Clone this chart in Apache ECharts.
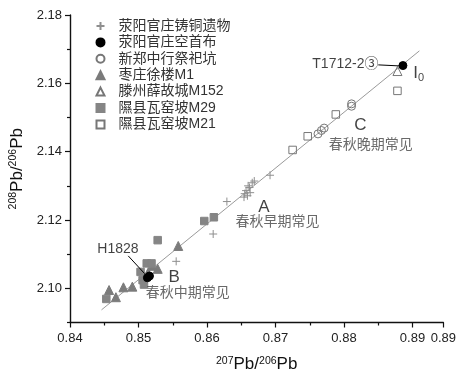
<!DOCTYPE html>
<html>
<head>
<meta charset="utf-8" />
<title>Pb isotope plot</title>
<script src="https://cdn.jsdelivr.net/npm/echarts@6/dist/echarts.min.js"></script>
<style>
    html, body { margin: 0; padding: 0; background: #fff; }
    #chart { width: 459px; height: 378px; }
</style>
</head>
<body>
<div id="chart"></div>
<script type="text/javascript">
    // legend names, in legend order
    var names = ['荥阳官庄铸铜遗物', '荥阳官庄空首布', '新郑中行祭祀坑', '枣庄徐楼M1', '滕州薛故城M152', '隰县瓦窑坡M29', '隰县瓦窑坡M21'];

    // [207Pb/206Pb, 208Pb/206Pb]
    var zhuTong = [[0.8555, 2.1079], [0.8609, 2.1159], [0.8629, 2.1254], [0.8654, 2.1267], [0.8657, 2.1286],
        [0.8659, 2.1271], [0.8662, 2.1295], [0.8666, 2.1309], [0.8669, 2.1314], [0.8663, 2.1280],
        [0.8655, 2.1277], [0.8660, 2.1300], [0.8692, 2.1331]];
    var kongShouBu = [[0.8513, 2.1031], [0.8516, 2.1036], [0.8886, 2.1652]];
    var zhongHang = [[0.8762, 2.1452], [0.8767, 2.1462], [0.8771, 2.1469], [0.8811, 2.1533], [0.8811, 2.1540]];
    var xuLouM1 = [[0.8457, 2.0995], [0.8467, 2.0974], [0.8478, 2.1003], [0.8491, 2.1005], [0.8528, 2.1057],
        [0.8520, 2.1066], [0.8514, 2.1046], [0.8558, 2.1124]];
    var xueM152 = [[0.8878, 2.1636]];
    var waYaoM29 = [[0.8453, 2.0969], [0.8503, 2.1048], [0.8506, 2.1024], [0.8508, 2.1011], [0.8512, 2.1073],
        [0.8519, 2.1073], [0.8528, 2.1141], [0.8596, 2.1197], [0.8610, 2.1208]];
    var waYaoM21 = [[0.8725, 2.1405], [0.8747, 2.1445], [0.8788, 2.1509], [0.8878, 2.1578]];

    // fitted line end points
    var fitLine = [[0.8446, 2.0937], [0.8910, 2.1695]];

    // axis ticks
    var xMin = 0.84, xMax = 0.8945, xStep = 0.01;
    var yMin = 2.09, yMax = 2.18;
    var yMajor = [2.10, 2.12, 2.14, 2.16, 2.18];
    var yMinor = [2.09, 2.11, 2.13, 2.15, 2.17];

    // annotations
    var annoText = ['H1828', '{b|B}', '{c|春秋中期常见}', '{b|A}', '{c|春秋早期常见}', '{b|C}', '{c|春秋晚期常见}', 'T1712-2③', '{b|I}{s|0}'];
    var annoPos = [[0.8470, 2.1114], [0.8552, 2.1031], [0.8572, 2.0989], [0.8683, 2.1238], [0.8703, 2.1197],
        [0.8824, 2.1476], [0.8839, 2.1424], [0.8802, 2.1657], [0.8909, 2.1629]];
    var arrows = [[[0.8485, 2.1095], [0.8509, 2.1043]], [[0.8850, 2.1654], [0.8881, 2.1651]]];

    var latin = "'Liberation Sans', 'Noto Sans CJK SC', sans-serif";
    var gray = '#858585';

    function pts(name, data, symbol, size, fill, stroke, z) {
        return {
            name: name, type: 'scatter', data: data, symbol: symbol, symbolSize: size, z: z || 3,
            itemStyle: { color: fill, borderColor: stroke, borderWidth: 1, opacity: 1 },
            emphasis: { disabled: true }
        };
    }

    var chart = echarts.init(document.getElementById('chart'));
    var option = {
        animation: false,
        backgroundColor: '#fff',
        grid: { left: 70, right: 0, top: 15, bottom: 48 },
        legend: {
            data: names,
            orient: 'vertical',
            left: 90.5,
            top: 14,
            itemWidth: 8,
            itemHeight: 8,
            itemGap: 2.4,
            textStyle: { fontFamily: latin, fontSize: 14, lineHeight: 14, color: '#333', padding: [0, 0, 0, 9] },
            selectedMode: false
        },
        xAxis: {
            type: 'value', min: xMin, max: xMax, interval: xStep,
            axisLine: { show: true, onZero: false, lineStyle: { color: '#111', width: 1.4 } },
            axisTick: { show: true, length: 5, lineStyle: { color: '#111', width: 1.2 } },
            minorTick: { show: true, splitNumber: 2, length: 3, lineStyle: { color: '#111', width: 1.2 } },
            splitLine: { show: false },
            axisLabel: { formatter: function (v) { return v.toFixed(2); }, margin: 9, fontFamily: latin, fontSize: 13, color: '#222' },
            name: '{s|207}{m|Pb/}{s|206}{m|Pb}',
            nameLocation: 'middle',
            nameGap: 33,
            nameTextStyle: {
                fontFamily: latin, color: '#111',
                rich: {
                    m: { fontSize: 17, fontFamily: latin, color: '#111', lineHeight: 18 },
                    s: { fontSize: 10.5, fontFamily: latin, color: '#111', verticalAlign: 'top', lineHeight: 12 }
                }
            }
        },
        yAxis: [{
            type: 'value', min: yMin, max: yMax,
            axisLine: { show: true, onZero: false, lineStyle: { color: '#111', width: 1.4 } },
            axisTick: { show: true, length: 5, customValues: yMajor, lineStyle: { color: '#111', width: 1.2 } },
            splitLine: { show: false },
            axisLabel: { customValues: yMajor, formatter: function (v) { return v.toFixed(2); }, margin: 8, fontFamily: latin, fontSize: 13, color: '#222' },
            name: '{s|208}{m|Pb/}{s|206}{m|Pb}',
            nameLocation: 'middle',
            nameRotate: 90,
            nameGap: 35,
            nameTextStyle: {
                fontFamily: latin, color: '#111',
                rich: {
                    m: { fontSize: 17, fontFamily: latin, color: '#111', lineHeight: 18 },
                    s: { fontSize: 10.5, fontFamily: latin, color: '#111', verticalAlign: 'top', lineHeight: 12 }
                }
            }
        }, {
            type: 'value', min: yMin, max: yMax, position: 'left',
            axisLine: { show: false },
            axisTick: { show: true, length: 3, customValues: yMinor, lineStyle: { color: '#111', width: 1.2 } },
            axisLabel: { show: false },
            splitLine: { show: false }
        }],
        series: [
            {
                name: 'fit', type: 'line', data: fitLine, symbol: 'none', silent: true, z: 1,
                lineStyle: { color: '#9a9a9a', width: 1 }
            },
            pts(names[0], zhuTong, 'path://M0,5H10M5,0V10', 8, 'rgba(0,0,0,0)', '#8f8f8f'),
            pts(names[2], zhongHang, 'circle', 8, 'rgba(0,0,0,0)', '#777'),
            pts(names[3], xuLouM1, 'triangle', 9, '#7b7b7b', '#7b7b7b'),
            pts(names[4], xueM152, 'triangle', 9, 'rgba(0,0,0,0)', '#777'),
            pts(names[5], waYaoM29, 'rect', 7.5, gray, gray),
            pts(names[6], waYaoM21, 'rect', 7.5, 'rgba(0,0,0,0)', '#777'),
            pts(names[1], kongShouBu, 'circle', 8, '#000', '#000', 5),
            {
                name: 'notes', type: 'scatter', symbolSize: 0, silent: true, z: 6,
                data: annoPos.map(function (p, i) {
                    return { value: p, label: { formatter: annoText[i] } };
                }),
                label: {
                    show: true, position: 'inside', fontFamily: latin, fontSize: 14, color: '#111',
                    rich: {
                        b: { fontSize: 17, fontFamily: latin, color: '#111', lineHeight: 20 },
                        c: { fontSize: 14, fontFamily: "'Noto Sans CJK SC', sans-serif", color: '#444' },
                        s: { fontSize: 11, fontFamily: latin, color: '#111', verticalAlign: 'bottom', lineHeight: 12 }
                    }
                },
                markLine: {
                    silent: true, animation: false,
                    symbol: ['none', 'arrow'], symbolSize: [0, 7],
                    lineStyle: { color: '#000', width: 1, type: 'solid' },
                    label: { show: false },
                    data: arrows.map(function (a) {
                        return [{ coord: a[0] }, { coord: a[1] }];
                    })
                }
            }
        ]
    };
    chart.setOption(option);
</script>
</body>
</html>
